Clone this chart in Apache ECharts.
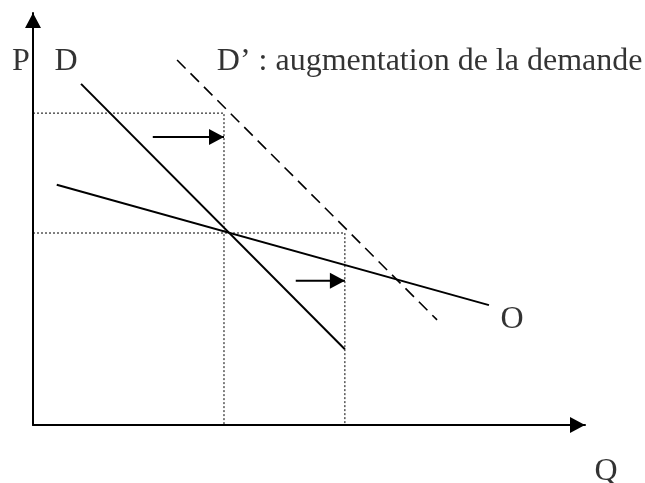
<!DOCTYPE html>
<html>
<head>
<meta charset="utf-8">
<script src="https://cdn.jsdelivr.net/npm/echarts@6/dist/echarts.min.js"></script>
<style>
  html, body { margin: 0; padding: 0; background: #fff; }
  #chart { width: 645px; height: 483px; }
</style>
</head>
<body>
<div id="chart"></div>
<script>
var demandD = [[8.7, 82.8], [56.5, 18.4]];
var demandD2 = [[26.1, 88.6], [73.2, 25.5]];
var offreO = [[4.3, 58.3], [82.6, 29.1]];
var guideAvant = [[0, 75.7], [34.6, 75.7], [34.6, 0]];
var guideApres = [[0, 46.6], [56.5, 46.6], [56.5, 0]];
var fleche1 = [[21.7, 69.9], [34.6, 69.9]];
var fleche2 = [[47.6, 35.0], [56.5, 35.0]];
var labelNames = ['P', 'D', 'D\u2019 : augmentation de la demande', 'O', 'Q'];
var labelPos = [[-2.2, 88.1], [6.0, 88.1], [33.3, 88.1], [86.8, 25.5], [103.8, -11.4]];

var serif = '"Liberation Serif", "Times New Roman", serif';
var headPath = 'path://M0,0L15,8L0,16Z';

function plainLine(data, type, width) {
  return {
    type: 'line',
    data: data,
    symbol: 'none',
    silent: true,
    lineStyle: { color: '#000', width: width, type: type }
  };
}

function arrow(data) {
  var pts = data.slice(0, -1);
  var last = data[data.length - 1];
  pts.push({
    value: last,
    symbol: headPath,
    symbolSize: [15, 16],
    symbolOffset: [-7.5, 0],
    itemStyle: { color: '#000' }
  });
  return {
    type: 'line',
    data: pts,
    symbol: 'none',
    silent: true,
    lineStyle: { color: '#000', width: 2 }
  };
}

var chart = echarts.init(document.getElementById('chart'), null, { renderer: 'canvas' });

var labelData = labelPos.map(function (p, i) {
  return {
    value: p,
    name: labelNames[i],
    label: { align: i === 2 ? 'left' : 'center' }
  };
});

var option = {
  animation: false,
  backgroundColor: '#fff',
  grid: { left: 33, right: 60, top: 13, bottom: 58 },
  xAxis: {
    type: 'value', min: 0, max: 100,
    axisLine: {
      onZero: false,
      lineStyle: { color: '#000', width: 2 },
      symbol: ['none', 'triangle'],
      symbolSize: [16, 15],
      symbolOffset: [0, -7.5]
    },
    axisTick: { show: false },
    axisLabel: { show: false },
    splitLine: { show: false }
  },
  yAxis: {
    type: 'value', min: 0, max: 100,
    axisLine: {
      show: true,
      onZero: false,
      lineStyle: { color: '#000', width: 2 },
      symbol: ['none', 'triangle'],
      symbolSize: [16, 15],
      symbolOffset: [0, -7.5]
    },
    axisTick: { show: false },
    axisLabel: { show: false },
    splitLine: { show: false }
  },
  series: [
    plainLine(guideAvant, [2, 2], 1),
    plainLine(guideApres, [2, 2], 1),
    plainLine(demandD, 'solid', 2),
    plainLine(demandD2, [12, 7], 1.6),
    plainLine(offreO, 'solid', 2),
    arrow(fleche1),
    arrow(fleche2),
    {
      type: 'scatter',
      data: labelData,
      symbolSize: 0,
      clip: false,
      silent: true,
      label: {
        show: true,
        position: 'inside',
        formatter: '{b}',
        color: '#000',
        fontFamily: serif,
        fontSize: 32
      }
    }
  ]
};

chart.setOption(option);
</script>
</body>
</html>
